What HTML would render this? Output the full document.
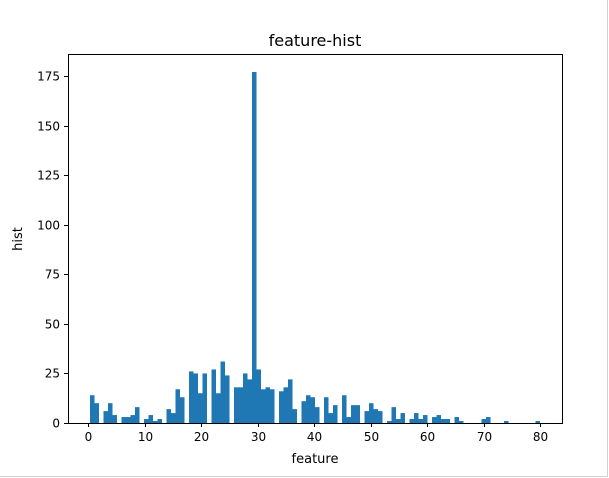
<!DOCTYPE html>
<html><head><meta charset="utf-8"><style>
body{margin:0;background:#fff;}
svg{display:block;font-family:"DejaVu Sans","Liberation Sans",sans-serif;}
</style></head><body>
<svg id="chart" width="609" height="478" viewBox="0 0 609 478">
<rect x="0" y="0" width="609" height="478" fill="#fff"/>
<line x1="607.5" y1="0" x2="607.5" y2="477" stroke="#d0d0d0"/>
<line x1="0" y1="476.5" x2="608" y2="476.5" stroke="#d0d0d0"/>
<g id="bars"></g>
<g id="axes"></g>
<text x="315" y="46" font-size="16" text-anchor="middle" fill="#000">feature-hist</text>
<text x="315" y="463" font-size="13" text-anchor="middle" fill="#000">feature</text>
<text x="0" y="0" font-size="13" text-anchor="middle" fill="#000" transform="translate(22,239) rotate(-90)">hist</text>
</svg>
<script>
const counts = [14,10,0,6,10,4,0,3,3,4,8,0,2,4,1,2,0,7,5,17,13,0,26,25,15,25,0,27,15,31,24,0,18,18,25,22,177,27,17,18,17,0,16,18,22,7,0,11,14,13,8,0,13,5,9,0,14,3,9,9,0,6,10,7,6,0,1,8,2,5,0,2,5,2,4,0,3,4,2,2,0,3,1,0,0,0,0,2,3,0,0,0,1,0,0,0,0,0,0,1];
const binStart = 0.354;
const binWidth = 0.7965;
const xTicks = [0,10,20,30,40,50,60,70,80];
const yTicks = [0,25,50,75,100,125,150,175];

const L=68,R=562,T=54,B=423;
const xs=v=>88+v*5.65;
const ys=v=>B-v*1.983;
const NS='http://www.w3.org/2000/svg';
const bars=document.getElementById('bars');
counts.forEach((c,i)=>{
  if(!c) return;
  const x0=xs(binStart+i*binWidth), x1=xs(binStart+(i+1)*binWidth);
  const r=document.createElementNS(NS,'rect');
  r.setAttribute('x',x0);r.setAttribute('width',x1-x0);
  r.setAttribute('y',ys(c));r.setAttribute('height',B-ys(c));
  r.setAttribute('fill','#1f77b4');
  
  
  bars.appendChild(r);
});
const ax=document.getElementById('axes');
const frame=document.createElementNS(NS,'rect');
frame.setAttribute('x',L+0.5);frame.setAttribute('y',T+0.5);
frame.setAttribute('width',R-L);frame.setAttribute('height',B-T);
frame.setAttribute('fill','none');frame.setAttribute('stroke','#000');


ax.appendChild(frame);
xTicks.forEach(v=>{
  const x=Math.round(xs(v))+0.5;
  const l=document.createElementNS(NS,'line');
  l.setAttribute('x1',x);l.setAttribute('x2',x);l.setAttribute('y1',B);l.setAttribute('y2',B+4);
  l.setAttribute('stroke','#000');
  
  
  ax.appendChild(l);
  const t=document.createElementNS(NS,'text');
  t.setAttribute('x',x);t.setAttribute('y',B+18);t.setAttribute('font-size','12');
  t.setAttribute('text-anchor','middle');t.textContent=v;
  
  
  ax.appendChild(t);
});
yTicks.forEach(v=>{
  const y=Math.round(ys(v))+0.5;
  const l=document.createElementNS(NS,'line');
  l.setAttribute('x1',L-4);l.setAttribute('x2',L);l.setAttribute('y1',y);l.setAttribute('y2',y);
  l.setAttribute('stroke','#000');
  
  
  ax.appendChild(l);
  const t=document.createElementNS(NS,'text');
  t.setAttribute('x',L-8);t.setAttribute('y',y+4);t.setAttribute('font-size','12');
  t.setAttribute('text-anchor','end');t.textContent=v;
  
  
  ax.appendChild(t);
});
</script>
</body></html>
